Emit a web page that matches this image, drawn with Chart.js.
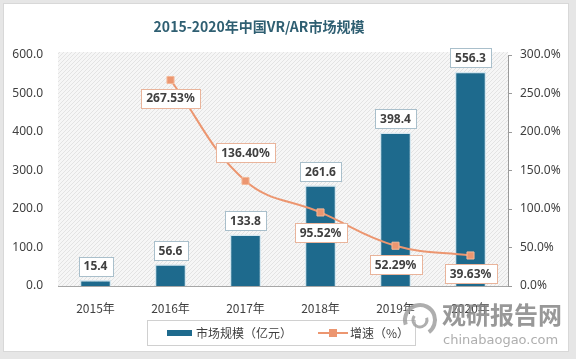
<!DOCTYPE html>
<html>
<head>
<meta charset="utf-8">
<script src="https://cdn.jsdelivr.net/npm/chart.js@4/dist/chart.umd.min.js"></script>
<style>
html,body{margin:0;padding:0;background:#fff;}
#wrap{width:576px;height:359px;position:relative;}
</style>
</head>
<body>
<div id="wrap"><canvas id="c" width="576" height="359"></canvas></div>
<script>
// ---- data ----
const titleText = '2015-2020年中国VR/AR市场规模';
const categories = ['2015年','2016年','2017年','2018年','2019年','2020年'];
const marketSize = [15.4, 56.6, 133.8, 261.6, 398.4, 556.3];      // 亿元
const growthRate = [null, 267.53, 136.40, 95.52, 52.29, 39.63];   // %
const sizeLabel = '市场规模（亿元）';
const growthLabel = '增速（%）';
const leftTicks = [0,100,200,300,400,500,600];
const rightTicks = [0,50,100,150,200,250,300];

// ---- styles ----
const BAR_COLOR = '#1e6a8d';
const LINE_COLOR = '#ec9670';
const TEXT = '#404040';
const lineLabelOffsets = [0, 18, -28, 20, 19, 18];

function makePattern(ctx){
  const p = document.createElement('canvas');
  p.width = 4; p.height = 4;
  const g = p.getContext('2d');
  g.fillStyle = '#f6f6f6'; g.fillRect(0,0,4,4);
  g.strokeStyle = '#e3e3e3'; g.lineWidth = 1;
  g.beginPath(); g.moveTo(0,4); g.lineTo(4,0); g.stroke();
  g.beginPath(); g.moveTo(-1,1); g.lineTo(1,-1); g.stroke();
  g.beginPath(); g.moveTo(3,5); g.lineTo(5,3); g.stroke();
  return ctx.createPattern(p,'repeat');
}

function box(ctx, cx, cy, text, border){
  ctx.font = 'bold 12px "Noto Sans", "Noto Sans CJK SC", sans-serif';
  const w = ctx.measureText(text).width + 10;
  const h = 19;
  ctx.fillStyle = '#fff';
  ctx.fillRect(Math.round(cx - w/2)+0.5, Math.round(cy - h/2)+0.5, Math.round(w), h);
  ctx.strokeStyle = border; ctx.lineWidth = 1;
  ctx.strokeRect(Math.round(cx - w/2)+0.5, Math.round(cy - h/2)+0.5, Math.round(w), h);
  ctx.fillStyle = TEXT;
  ctx.textAlign = 'center'; ctx.textBaseline = 'middle';
  ctx.fillText(text, cx, cy + 1);
}

const decor = {
  id: 'decor',
  beforeDraw(chart){
    const ctx = chart.ctx, a = chart.chartArea;
    ctx.save();
    ctx.fillStyle = '#e6e6e6';
    ctx.fillRect(0,0,576,359);
    ctx.fillStyle = '#ffffff';
    ctx.fillRect(3,3,566,349);
    ctx.strokeStyle = '#d8d8d8';
    ctx.strokeRect(3.5,3.5,565,348);
    ctx.fillStyle = makePattern(ctx);
    ctx.fillRect(a.left, a.top - 3, a.right - a.left, a.bottom - a.top + 3);
    // title
    ctx.fillStyle = '#2f5f72';
    ctx.font = 'bold 14px "Noto Sans CJK SC", sans-serif';
    ctx.textAlign = 'center'; ctx.textBaseline = 'middle';
    ctx.fillText(titleText, 259, 27);
    ctx.restore();
  },
  afterDatasetsDraw(chart){
    const ctx = chart.ctx;
    ctx.save();
    const barMeta = chart.getDatasetMeta(1);
    barMeta.data.forEach((el,i)=>{
      box(ctx, el.x, el.y - 14, marketSize[i].toFixed(1), '#a9bfcb');
    });
    const lineMeta = chart.getDatasetMeta(0);
    lineMeta.data.forEach((el,i)=>{
      if (growthRate[i] == null) return;
      box(ctx, el.x, el.y + lineLabelOffsets[i], growthRate[i].toFixed(2) + '%', '#e9b49b');
    });
    ctx.restore();
  },
  afterDraw(chart){
    const ctx = chart.ctx;
    ctx.save();
    // legend box
    ctx.strokeStyle = '#d0d0d0'; ctx.lineWidth = 1;
    ctx.strokeRect(147.5, 320.5, 268, 25);
    ctx.fillStyle = BAR_COLOR;
    ctx.fillRect(167, 330, 25, 6);
    ctx.font = '12px "Noto Sans CJK SC", sans-serif';
    ctx.fillStyle = TEXT; ctx.textAlign = 'left'; ctx.textBaseline = 'middle';
    ctx.fillText(sizeLabel, 196, 333);
    ctx.strokeStyle = LINE_COLOR; ctx.lineWidth = 2;
    ctx.beginPath(); ctx.moveTo(318, 333); ctx.lineTo(348, 333); ctx.stroke();
    ctx.fillStyle = LINE_COLOR;
    ctx.fillRect(329, 329, 8, 8);
    ctx.fillStyle = TEXT;
    ctx.fillText(growthLabel, 350, 333);
    // watermark
    ctx.globalAlpha = 0.85;
    ctx.strokeStyle = '#a0a0a0'; ctx.lineWidth = 4;
    ctx.beginPath(); ctx.arc(420, 320, 15, Math.PI*0.9, Math.PI*2.3); ctx.stroke();
    ctx.lineWidth = 3;
    ctx.beginPath(); ctx.arc(420, 320, 7, Math.PI*1.9, Math.PI*3.2); ctx.stroke();
    ctx.fillStyle = '#868686';
    ctx.font = 'bold 24px "Noto Sans CJK SC", sans-serif';
    ctx.fillText('观研报告网', 442, 315);
    ctx.fillStyle = '#a0a0a0';
    ctx.font = '13px "DejaVu Sans", sans-serif';
    ctx.fillText('chinabaogao.com', 443, 341);
    ctx.restore();
  }
};

new Chart(document.getElementById('c'), {
  type: 'bar',
  data: {
    labels: categories,
    datasets: [
      {
        type: 'line', label: growthLabel, data: growthRate, yAxisID: 'y2',
        borderColor: LINE_COLOR, borderWidth: 2, tension: 0.4,
        pointStyle: 'rect', pointRadius: 5, pointBackgroundColor: LINE_COLOR,
        pointBorderColor: '#f3b898', pointBorderWidth: 1, order: 0
      },
      {
        type: 'bar', label: sizeLabel, data: marketSize, yAxisID: 'y',
        backgroundColor: BAR_COLOR, borderColor: '#d4e6ef', borderWidth: 1.5,
        barPercentage: 0.42, categoryPercentage: 1, order: 1
      }
    ]
  },
  options: {
    responsive: false, animation: false,
    layout: { padding: { top: 55, bottom: 43, left: 0, right: 0 } },
    plugins: { legend: { display: false }, title: { display: false }, tooltip: { enabled: false } },
    scales: {
      x: {
        grid: { display: false },
        border: { display: true, color: '#a6a6a6', width: 1 },
        ticks: { color: TEXT, padding: 7, font: { size: 12, family: '"Noto Sans CJK SC", sans-serif' } },
        afterFit(s){ s.height = 30; }
      },
      y: {
        position: 'left', min: 0, max: 600,
        grid: { display: false, drawTicks: false },
        border: { display: false },
        afterBuildTicks(s){ s.ticks = leftTicks.map(v=>({value:v})); },
        ticks: { color: TEXT, padding: 15, font: { size: 12, family: '"Noto Sans", sans-serif' },
                 callback: v => Number(v).toFixed(1) },
        afterFit(s){ s.width = 58; }
      },
      y2: {
        position: 'right', min: 0, max: 300,
        grid: { display: true, drawOnChartArea: false, drawTicks: true, tickLength: 4, color: '#9a9a9a' },
        border: { display: true, color: '#9a9a9a', width: 1 },
        afterBuildTicks(s){ s.ticks = rightTicks.map(v=>({value:v})); },
        ticks: { color: TEXT, padding: 8, font: { size: 12, family: '"Noto Sans", sans-serif' },
                 callback: v => Number(v).toFixed(1) + '%' },
        afterFit(s){ s.width = 68; }
      }
    }
  },
  plugins: [decor]
});
</script>
</body>
</html>
